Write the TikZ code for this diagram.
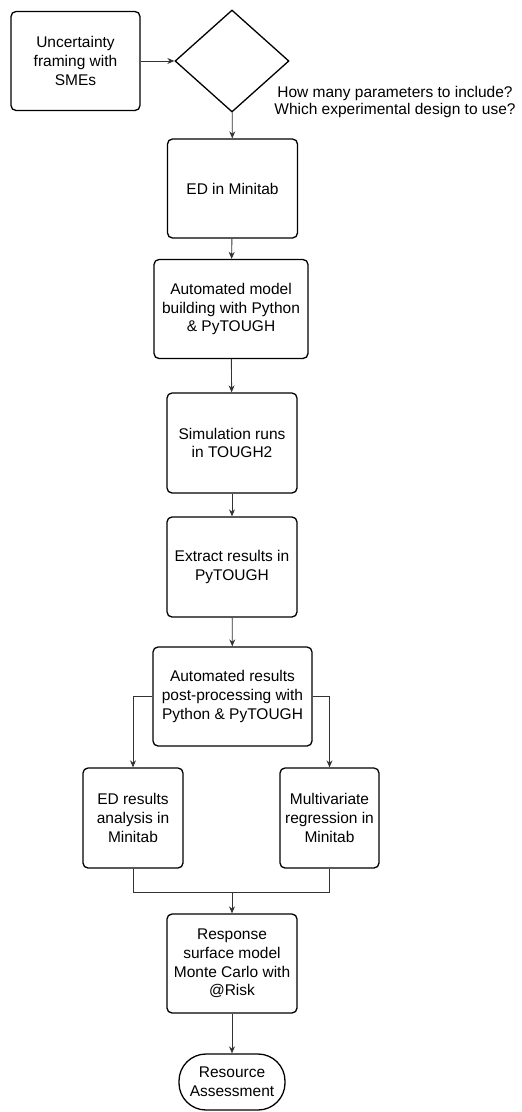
\documentclass[tikz,border=0pt]{standalone}
\usepackage{fontspec}
\setmainfont{Liberation Sans}
\usetikzlibrary{shapes.geometric,arrows.meta}

\tikzset{
  box/.style={draw, line width=1.3pt, rounded corners=5pt, align=center,
    minimum width=130pt, minimum height=99pt, inner sep=2pt,
    font=\fontsize{15.5}{18.7}\selectfont},
  decision/.style={draw, line width=1.3pt, diamond, minimum width=114pt,
    minimum height=102pt, inner sep=0pt},
  terminal/.style={draw, line width=1.3pt, rounded corners=27pt, align=center,
    minimum width=106pt, minimum height=56pt, inner sep=0pt,
    font=\fontsize{15.5}{18.7}\selectfont},
  note/.style={align=center, inner sep=0pt, font=\fontsize{15.5}{16.5}\selectfont},
  conn/.style={draw=black!80, line width=0.9pt, -{Stealth[length=7pt,width=6pt]}},
  link/.style={draw=black!80, line width=0.9pt}
}

\begin{document}
\begin{tikzpicture}[x=1pt, y=-1pt]
            \useasboundingbox (0,0) rectangle (522,1112);

            % Nodes
            \node[box, minimum width=129pt] (unc) at (75.5, 61) {Uncertainty\\framing with\\SMEs};
            \node[decision] (dec) at (232, 61) {};
            \node[note] (q) at (395, 102) {How many parameters to include?\\Which experimental design to use?};
            \node[box] (ed) at (232.5, 188.5) {ED in Minitab};
            \node[box, minimum width=154pt] (build) at (231, 309) {Automated model\\building with Python\\\& PyTOUGH};
            \node[box, minimum height=100pt] (sim) at (232, 443) {Simulation runs\\in TOUGH2};
            \node[box, minimum height=100pt] (ext) at (232, 567) {Extract results in\\PyTOUGH};
            \node[box, minimum width=159pt] (post) at (232.5, 696.5) {Automated results\\post-processing with\\Python \& PyTOUGH};
            \node[box, minimum width=100pt, minimum height=100pt] (edres) at (133, 818) {ED results\\analysis in\\Minitab};
            \node[box, minimum width=99pt, minimum height=100pt] (mvr) at (329.5, 818) {Multivariate\\regression in\\Minitab};
            \coordinate (join) at (232, 892);
            \node[box] (rsm) at (232, 963.5) {Response\\surface model\\Monte Carlo with\\@Risk};
            \node[terminal] (res) at (232, 1082) {Resource\\Assessment};

            % Edges
            \draw[conn] (unc) -- (dec);
            \draw[conn] (dec) -- (ed);
            \draw[conn] (ed) -- (build);
            \draw[conn] (build) -- (sim);
            \draw[conn] (sim) -- (ext);
            \draw[conn] (ext) -- (post);
            \draw[conn] (post.west) -| (edres.north);
            \draw[conn] (post.east) -| (mvr.north);
            \draw[link] (edres.south) |- (join) -| (mvr.south);
            \draw[conn] (join) -- (rsm);
            \draw[conn] (rsm) -- (res);
        \end{tikzpicture}
\end{document}
